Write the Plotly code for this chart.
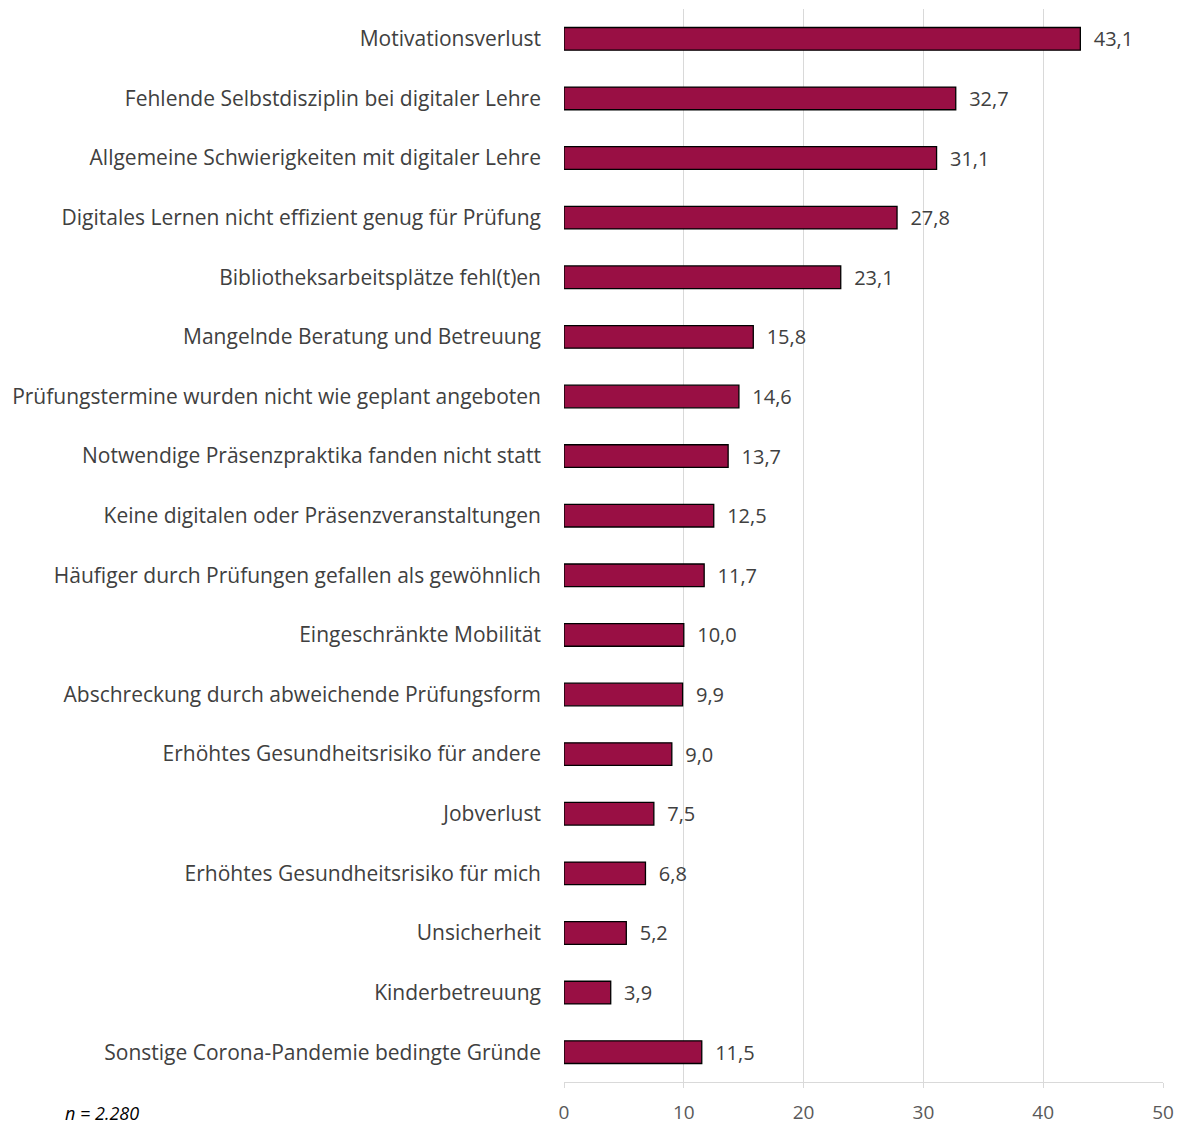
import plotly.graph_objects as go

categories = [
    "Motivationsverlust",
    "Fehlende Selbstdisziplin bei digitaler Lehre",
    "Allgemeine Schwierigkeiten mit digitaler Lehre",
    "Digitales Lernen nicht effizient genug für Prüfung",
    "Bibliotheksarbeitsplätze fehl(t)en",
    "Mangelnde Beratung und Betreuung",
    "Prüfungstermine wurden nicht wie geplant angeboten",
    "Notwendige Präsenzpraktika fanden nicht statt",
    "Keine digitalen oder Präsenzveranstaltungen",
    "Häufiger durch Prüfungen gefallen als gewöhnlich",
    "Eingeschränkte Mobilität",
    "Abschreckung durch abweichende Prüfungsform",
    "Erhöhtes Gesundheitsrisiko für andere",
    "Jobverlust",
    "Erhöhtes Gesundheitsrisiko für mich",
    "Unsicherheit",
    "Kinderbetreuung",
    "Sonstige Corona-Pandemie bedingte Gründe",
]
values = [43.1, 32.7, 31.1, 27.8, 23.1, 15.8, 14.6, 13.7, 12.5, 11.7,
          10.0, 9.9, 9.0, 7.5, 6.8, 5.2, 3.9, 11.5]
x_ticks = [0, 10, 20, 30, 40, 50]

labels = ["  " + f"{v:.1f}".replace(".", ",") for v in values]

fig = go.Figure(go.Bar(
    y=categories,
    x=values,
    orientation="h",
    marker=dict(color="#990F44", line=dict(color="#000000", width=1.3)),
    text=labels,
    textposition="outside",
    constraintext="none",
    textfont=dict(size=20, color="#404040", family="Open Sans"),
    cliponaxis=False,
))

fig.update_layout(
    width=1183, height=1128,
    margin=dict(l=564, r=20, t=9, b=46, autoexpand=False),
    plot_bgcolor="white",
    paper_bgcolor="white",
    bargap=0.62,
    showlegend=False,
    font=dict(family="Open Sans", color="#404040", size=20),
    annotations=[dict(
        text="<i>n = 2.280</i>", xref="paper", yref="paper",
        x=-0.837, y=-0.0415, xanchor="left", yanchor="bottom", showarrow=False,
        font=dict(size=18, color="#000000", family="Open Sans"),
    )],
)
fig.update_xaxes(
    range=[0, 50], tickvals=x_ticks, showgrid=True, gridcolor="#D9D9D9",
    gridwidth=1, zeroline=False, showline=True, linecolor="#D9D9D9",
    ticks="outside", ticklen=5, tickcolor="#D9D9D9", automargin=False,
    tickfont=dict(size=19, color="#595959"), ticklabelstandoff=8,
)
fig.update_yaxes(
    autorange="reversed", showgrid=False, zeroline=False, showline=False,
    ticks="", tickfont=dict(size=21, color="#404040"), ticklabelstandoff=22,
    automargin=False,
)

fig.write_html(
    "out.html",
    config={"displayModeBar": False},
    post_script="document.body.style.margin='0';document.body.style.overflow='hidden';",
)
